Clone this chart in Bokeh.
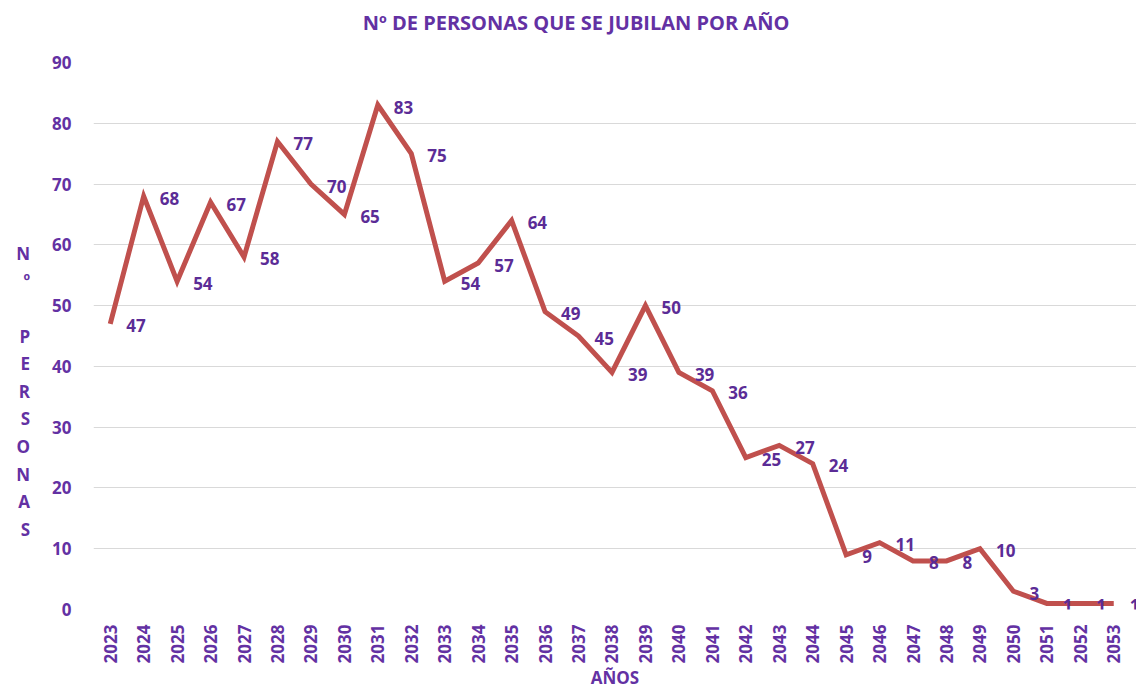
from bokeh.plotting import figure
from bokeh.models import Range1d, FixedTicker, LinearAxis
from bokeh.core.properties import value
from bokeh.embed import file_html
from bokeh.resources import INLINE
import math

# ---- data ----
years = list(range(2023, 2054))
personas = [47, 68, 54, 67, 58, 77, 70, 65, 83, 75, 54, 57, 64, 49, 45, 39, 50,
            39, 36, 25, 27, 24, 9, 11, 8, 8, 10, 3, 1, 1, 1]
y_ticks = [0, 10, 20, 30, 40, 50, 60, 70, 80, 90]
title_text = "Nº DE PERSONAS QUE SE JUBILAN POR AÑO"
x_label = "AÑOS"
y_label_letters = ["N", "º", "", "P", "E", "R", "S", "O", "N", "A", "S"]

PURPLE = "#6331a3"
LABEL_PURPLE = "#5b2c96"
LINE_RED = "#c0504d"
FONT = "Open Sans"

W, H = 1136, 692
p = figure(width=W, height=H, x_range=Range1d(years[0] - 0.5, years[-1] + 0.68),
           y_range=Range1d(0, 90),
           output_backend="svg", toolbar_location=None,
           min_border_left=93, min_border_right=0, min_border_top=62, min_border_bottom=83)
p.outline_line_color = None
p.background_fill_color = "white"
p.border_fill_color = "white"

# grid
p.xgrid.grid_line_color = None
p.ygrid.grid_line_color = "#d9d9d9"
p.ygrid.grid_line_width = 1

# y axis
p.yaxis.ticker = FixedTicker(ticks=y_ticks)
p.yaxis.axis_line_color = None
p.yaxis.major_tick_line_color = None
p.yaxis.minor_tick_line_color = None
p.yaxis.major_label_text_font = FONT
p.yaxis.major_label_text_font_style = "bold"
p.yaxis.major_label_text_font_size = "17px"
p.yaxis.major_label_text_color = PURPLE
p.yaxis.major_label_standoff = 16
p.yaxis.axis_label = "\n\n\n\n" + "\n".join(y_label_letters)
p.yaxis.axis_label_orientation = "horizontal"
p.yaxis.axis_label_text_font = FONT
p.yaxis.axis_label_text_font_style = "bold"
p.yaxis.axis_label_text_font_size = "17px"
p.yaxis.axis_label_text_line_height = 1.2
p.yaxis.axis_label_text_color = PURPLE
p.yaxis.axis_label_standoff = 19

# x axis
p.xaxis.ticker = FixedTicker(ticks=years)
p.xaxis.major_label_overrides = {y: str(y) for y in years}
p.xaxis.axis_line_color = None
p.xaxis.major_tick_line_color = None
p.xaxis.minor_tick_line_color = None
p.xaxis.major_label_orientation = math.pi / 2
p.xaxis.major_label_text_font = FONT
p.xaxis.major_label_text_font_style = "bold"
p.xaxis.major_label_text_font_size = "17px"
p.xaxis.major_label_text_color = PURPLE
p.xaxis.major_label_standoff = 9
p.xaxis.axis_label = x_label
p.xaxis.axis_label_text_font = FONT
p.xaxis.axis_label_text_font_style = "bold"
p.xaxis.axis_label_text_font_size = "17px"
p.xaxis.axis_label_text_color = PURPLE
p.xaxis.axis_label_standoff = 0

# title drawn as the label of a bare axis above the frame
title_axis = LinearAxis(ticker=FixedTicker(ticks=[]), axis_line_color=None,
                        major_tick_line_color=None, minor_tick_line_color=None,
                        major_tick_out=0, minor_tick_out=0, major_label_standoff=0,
                        major_label_text_font_size="0px",
                        axis_label=title_text + "\u00a0" * 15,
                        axis_label_standoff=27,
                        axis_label_text_font=FONT, axis_label_text_font_style="bold",
                        axis_label_text_font_size="20px", axis_label_text_color=PURPLE)
p.add_layout(title_axis, "above")

# line
p.line(years, personas, line_color=LINE_RED, line_width=5, line_join="miter")

# data labels
p.text(years, personas, text=[str(v) for v in personas], x_offset=16, y_offset=2,
       text_align="left", text_baseline="middle",
       text_font=value(FONT), text_font_style="bold", text_font_size="17px",
       text_color=LABEL_PURPLE)

open("out.html", "w").write(file_html(p, INLINE))
